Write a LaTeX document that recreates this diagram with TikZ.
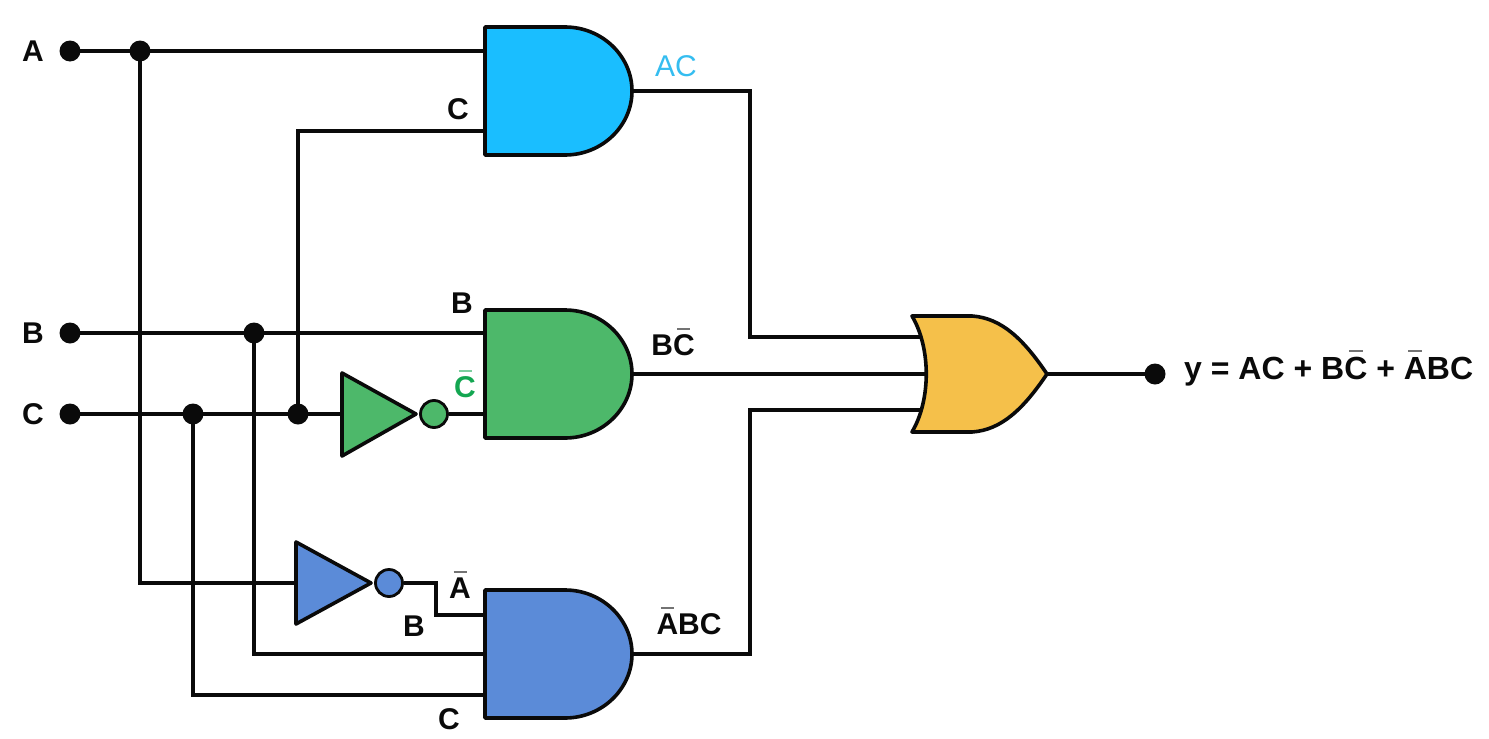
\documentclass[tikz,border=0pt]{standalone}
\usepackage{fontspec}
\setmainfont{Liberation Sans}
\newcommand\ovl[2][black!55]{\begingroup\sbox0{#2}\makebox[0pt][l]{\hspace{.2\wd0}\color{#1}\raisebox{0.86em}{\rule{.6\wd0}{1.3pt}}}\usebox0\endgroup}
\definecolor{gcyan}{HTML}{1ABEFF}
\definecolor{ggreen}{HTML}{4DB86A}
\definecolor{gblue}{HTML}{5B8BD8}
\definecolor{gyellow}{HTML}{F5C04A}
\definecolor{tcyan}{HTML}{35BDF0}
\definecolor{tgreen}{HTML}{13A651}
\definecolor{ink}{HTML}{0A0A0A}
\tikzset{
  wire/.style={draw=ink,line width=4pt,line join=miter},
  gate/.style={draw=ink,line width=3.6pt,line join=round},
  bubble/.style={circle,draw=ink,line width=2.8pt,inner sep=0pt,minimum size=27pt},
  dot/.style={circle,fill=ink,inner sep=0pt,outer sep=0pt,minimum size=21pt},
  lbl/.style={inner sep=0pt,text=ink,font=\fontsize{30}{33}\selectfont\bfseries},
}
\begin{document}
\begin{tikzpicture}[x=1pt,y=-1pt]
\useasboundingbox (0,0) rectangle (1489,739);
% input and junction dots
\node[dot] (inA) at (70,51) {};
\node[dot] (inB) at (70,333) {};
\node[dot] (inC) at (70,414) {};
\node[dot] (jA) at (140,51) {};
\node[dot] (jB) at (254,333) {};
\node[dot] (jC1) at (193,414) {};
\node[dot] (jC2) at (298,414) {};
\node[dot] (out) at (1155,374) {};
% inverter bubbles
\node[bubble,fill=ggreen] (b1) at (434,414) {};
\node[bubble,fill=gblue] (b2) at (389,583) {};
% pins
\coordinate (a1i1) at (485,51);
\coordinate (a1i2) at (485,131);
\coordinate (a1o) at (632,91);
\coordinate (a2i1) at (485,333);
\coordinate (a2i2) at (485,414);
\coordinate (a2o) at (632,374);
\coordinate (a3i1) at (485,615);
\coordinate (a3i2) at (485,654);
\coordinate (a3i3) at (485,695);
\coordinate (a3o) at (632,654);
\coordinate (o1) at (925,337);
\coordinate (o2) at (926,374);
\coordinate (o3) at (925,410);
\coordinate (oo) at (1047,374);
\coordinate (n1i) at (342,414);
\coordinate (n2i) at (296,583);
\coordinate (c1) at (750,91);
\coordinate (c2) at (750,337);
\coordinate (c3) at (750,654);
\coordinate (c4) at (750,410);
\coordinate (s1) at (436,583);
\coordinate (s2) at (436,615);
% wires
\draw[wire] (inA.center) -- (a1i1);
\draw[wire] (inB.center) -- (a2i1);
\draw[wire] (inC.center) -- (n1i);
\draw[wire] (jA.center) -- (jA |- n2i) -- (n2i);
\draw[wire] (jB.center) -- (jB |- a3i2) -- (a3i2);
\draw[wire] (jC1.center) -- (jC1 |- a3i3) -- (a3i3);
\draw[wire] (jC2.center) -- (jC2 |- a1i2) -- (a1i2);
\draw[wire] (b1) -- (a2i2);
\draw[wire] (b2) -- (s1) -- (s2) -- (a3i1);
\draw[wire] (a1o) -- (c1) -- (c2) -- (o1);
\draw[wire] (a2o) -- (o2);
\draw[wire] (a3o) -- (c3) -- (c4) -- (o3);
\draw[wire] (oo) -- (out.center);
% AND gates
\draw[gate,fill=gcyan] (485,27) -- (565,27) .. controls (602,27) and (632,56) .. (a1o) .. controls (632,126) and (602,155) .. (565,155) -- (485,155) -- cycle;
\draw[gate,fill=ggreen] (485,310) -- (565,310) .. controls (602,310) and (632,339) .. (a2o) .. controls (632,409) and (602,438) .. (565,438) -- (485,438) -- cycle;
\draw[gate,fill=gblue] (485,590) -- (565,590) .. controls (602,590) and (632,619) .. (a3o) .. controls (632,689) and (602,718) .. (565,718) -- (485,718) -- cycle;
% inverters
\draw[gate,fill=ggreen] (342,373) -- (416,414) -- (342,456) -- cycle;
\draw[gate,fill=gblue] (296,542) -- (371,583) -- (296,624) -- cycle;
% OR gate
\draw[gate,fill=gyellow] (912,316) -- (972,316) .. controls (1002,318) and (1024,340) .. (oo) .. controls (1024,408) and (1002,430) .. (972,432) -- (912,432) .. controls (931,400) and (931,348) .. cycle;
% labels
\node[lbl] (tA) at (33,51) {A};
\node[lbl] (tB) at (33,333) {B};
\node[lbl] (tC) at (33,414) {C};
\node[lbl,text=tcyan,font=\fontsize{30}{33}\selectfont] (tAC) at (676,66) {AC};
\node[lbl] (t1) at (458,109) {C};
\node[lbl] (t2) at (462,303) {B};
\node[lbl,text=tgreen] (t3) at (465,384) {\ovl[tgreen!55]{C}};
\node[lbl] (t4) at (673,342) {B\ovl{C}};
\node[lbl] (t5) at (460,585) {\ovl{A}};
\node[lbl] (t6) at (414,626) {B};
\node[lbl] (t7) at (689,621) {\ovl{A}BC};
\node[lbl] (t8) at (449,719) {C};
\node[lbl,anchor=west,font=\fontsize{32}{35}\selectfont\bfseries] (t9) at (1184,368) {y = AC + B\ovl{C} + \ovl{A}BC};
\end{tikzpicture}
\end{document}
